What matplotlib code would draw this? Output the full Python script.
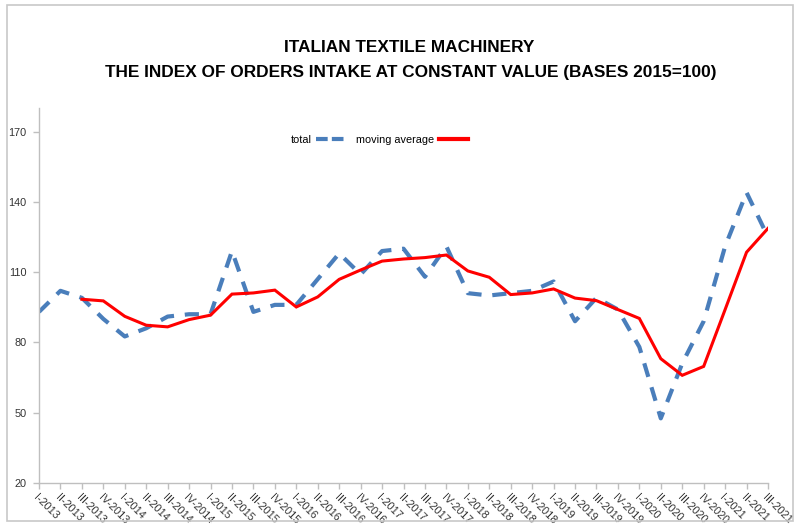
import numpy as np
import matplotlib
matplotlib.use("Agg")
import matplotlib.pyplot as plt
from matplotlib.lines import Line2D
from matplotlib.patches import Rectangle

# quarters on the x axis
quarters = ["I-2013", "II-2013", "III-2013", "IV-2013",
            "I-2014", "II-2014", "III-2014", "IV-2014",
            "I-2015", "II-2015", "III-2015", "IV-2015",
            "I-2016", "II-2016", "III-2016", "IV-2016",
            "I-2017", "II-2017", "III-2017", "IV-2017",
            "I-2018", "II-2018", "III-2018", "IV-2018",
            "I-2019", "II-2019", "III-2019", "IV-2019",
            "I-2020", "II-2020", "III-2020", "IV-2020",
            "I-2021", "II-2021", "III-2021"]

# index values
total = [93, 102, 99, 90, 82.5, 86, 91, 92, 92, 119, 93, 96, 96, 107, 118, 109, 119, 120,
         108, 121, 101, 100, 101, 102, 106, 89, 99, 94, 78, 47.5, 71, 89, 121, 144, 125]
moving_avg = [np.nan, np.nan, 98.4, 97.7, 91.1, 87.3, 86.6, 89.7, 91.6, 100.6, 101.1, 102.3,
              95.1, 99.4, 106.9, 110.9, 114.7, 115.6, 116.2, 117.3, 110.5, 107.8, 100.4, 101.1,
              102.8, 98.9, 97.8, 94.0, 90.2, 73.0, 65.9, 69.7, 94.0, 118.5, 128.7]

yticks = [20, 50, 80, 110, 140, 170]

blue = "#4a7ebb"
red = "#ff0000"
grey = "#bfbfbf"

plt.rcParams["font.family"] = ["Liberation Sans", "DejaVu Sans"]

fig = plt.figure(figsize=(8, 5.26), dpi=100)
# outer chart frame
fig.patches.append(Rectangle((7 / 800, 5 / 526), 786 / 800, 516 / 526, transform=fig.transFigure,
                             fill=False, edgecolor="#c8c8c8", linewidth=1.2))

ax = fig.add_axes([0.04875, 0.0823, 0.91125, 0.7118])
x = np.arange(len(quarters))

ax.plot(x, total, color=blue, linewidth=3, dashes=(3.4, 2.6), dash_capstyle="butt")
ax.plot(x, moving_avg, color=red, linewidth=2.2, solid_joinstyle="miter")

ax.set_xlim(0, len(quarters) - 1)
ax.set_ylim(20, 180)
ax.set_yticks(yticks)
ax.set_xticks(x)
ax.set_xticklabels(quarters, rotation=-45, ha="left", va="top", rotation_mode="anchor")

for side in ["top", "right"]:
    ax.spines[side].set_visible(False)
for side in ["left", "bottom"]:
    ax.spines[side].set_color(grey)
    ax.spines[side].set_linewidth(1)
ax.tick_params(axis="both", colors=grey, length=4, width=1, labelsize=7.8, labelcolor="#333333")
ax.tick_params(axis="y", pad=5)
ax.tick_params(axis="x", pad=3)

fig.text(0.512, 1 - 48 / 526, "ITALIAN TEXTILE MACHINERY", ha="center", va="center",
         fontsize=12.4, fontweight="bold")
fig.text(0.514, 1 - 73 / 526, "THE INDEX OF ORDERS INTAKE AT CONSTANT VALUE (BASES 2015=100)",
         ha="center", va="center", fontsize=12.4, fontweight="bold")

handles = [Line2D([], [], color=blue, linewidth=3, dashes=(2.8, 1.0), dash_capstyle="butt"),
           Line2D([], [], color=red, linewidth=3)]
fig.legend(handles, ["total", "moving average"], loc="center", bbox_to_anchor=(0.474, 1 - 140 / 526),
           ncol=2, frameon=False, markerfirst=False, handlelength=2.7, handletextpad=0.4,
           columnspacing=1.0, fontsize=7.8)

fig.savefig("out.png", dpi=100)
